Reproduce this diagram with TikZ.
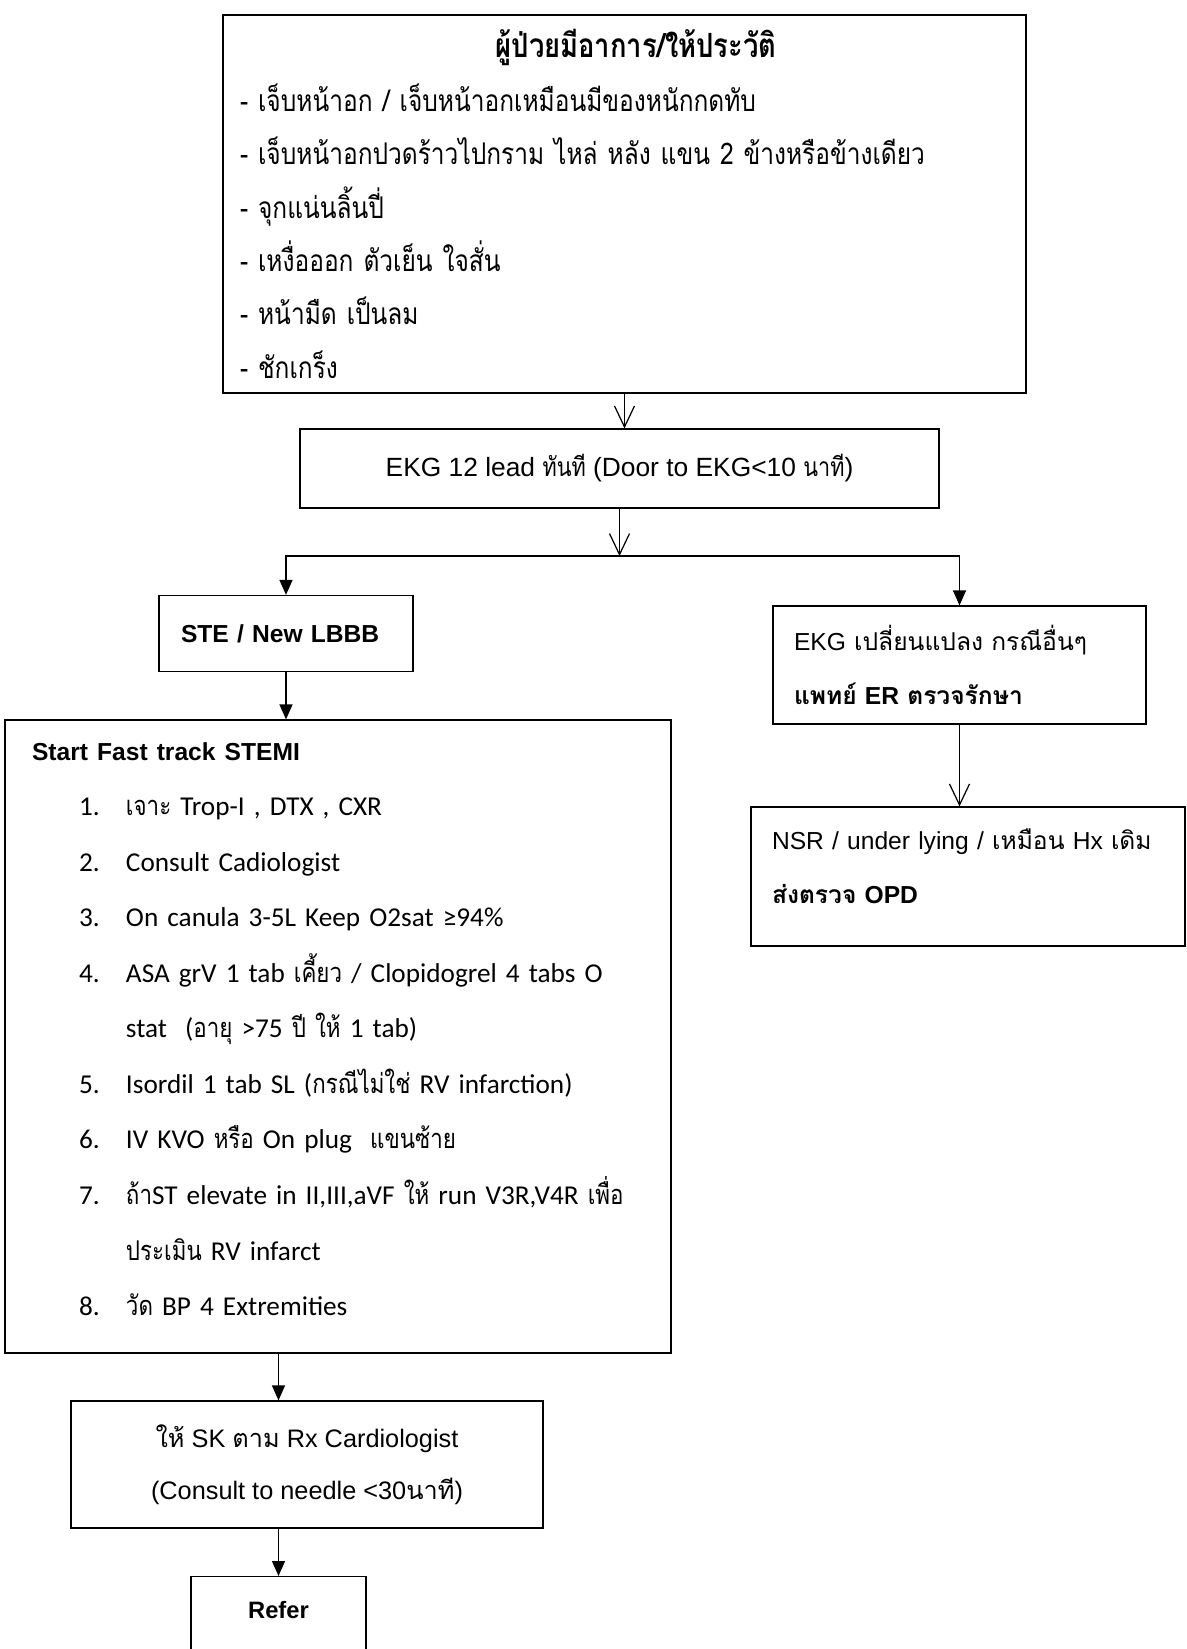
\documentclass[tikz,border=0pt]{standalone}
\usepackage{fontspec}
\setmainfont{Liberation Sans}
\newfontfamily\thaifont[Script=Thai]{Loma}
\newfontfamily\thainarrow[Script=Thai,FakeStretch=0.82]{Loma}
\newfontfamily\listfont{Carlito}
\newcommand{\thai}[1]{{\thaifont #1}}
\newcommand{\thain}[1]{{\thainarrow #1}}
\newcommand{\stepitem}[1]{\hspace*{0.94cm}\makebox[0.94cm][l]{#1}}
\usetikzlibrary{arrows.meta}

\begin{document}
\begin{tikzpicture}[every path/.style={line width=0.7pt},
    box/.style={draw,rectangle,inner sep=0pt},
    openarr/.style={-{Straight Barb[length=0.42cm,width=0.4cm]}},
    filledarr/.style={-{Triangle[length=0.3cm,width=0.26cm]}}]
  \useasboundingbox (0,0) rectangle (23.74,-32.98);

  \node[box,minimum width=16.06cm,minimum height=7.56cm,text width=15.38cm,align=left,
    font=\thainarrow\fontsize{17}{30.4}\selectfont] (symptoms) at (12.49,-4.08)
    {\makebox[\hsize]{\hspace{0.46cm}\bfseries\fontsize{19}{30.4}\selectfont ผู้ป่วยมีอาการ/ให้ประวัติ}\\
     - เจ็บหน้าอก / เจ็บหน้าอกเหมือนมีของหนักกดทับ\\
     - เจ็บหน้าอกปวดร้าวไปกราม ไหล่ หลัง แขน 2 ข้างหรือข้างเดียว\\
     - จุกแน่นลิ้นปี่\\
     - เหงื่อออก ตัวเย็น ใจสั่น\\
     - หน้ามืด เป็นลม\\
     - ชักเกร็ง};
  \node[box,minimum width=12.78cm,minimum height=1.58cm,
    font=\fontsize{15}{17}\selectfont] (ekg) at (12.39,-9.37)
    {EKG 12 lead \thain{ทันที} (Door to EKG<10 \thain{นาที})};
  \coordinate (split) at (12.39,-11.12);

  \node[box,minimum width=5.08cm,minimum height=1.52cm,text width=4.2cm,align=left,
    font=\bfseries\fontsize{14}{17}\selectfont] (ste) at (5.72,-12.67) {STE / New LBBB};
  \node[box,minimum width=7.46cm,minimum height=2.36cm,text width=6.62cm,align=left,
    font=\fontsize{14}{30.7}\selectfont] (chg) at (19.19,-13.30)
    {EKG \thai{เปลี่ยนแปลง กรณีอื่นๆ}\\
     \bfseries\thai{แพทย์} ER \thai{ตรวจรักษา}};

  \node[box,minimum width=13.32cm,minimum height=12.66cm,text width=12.24cm,align=left,
    font=\fontsize{15.5}{31.6}\selectfont] (start) at (6.76,-20.73)
    {{\bfseries\fontsize{14}{31.6}\selectfont Start Fast track STEMI}\\
     \listfont
     \stepitem{1.}\thain{เจาะ} Trop-I , DTX , CXR\\
     \stepitem{2.}Consult Cadiologist\\
     \stepitem{3.}On canula 3-5L Keep O2sat ≥94\%\\
     \stepitem{4.}ASA grV 1 tab \thain{เคี้ยว} / Clopidogrel 4 tabs O\\
     \hspace*{1.88cm}stat~ (\thain{อายุ} >75 \thain{ปี ให้} 1 tab)\\
     \stepitem{5.}Isordil 1 tab SL (\thain{กรณีไม่ใช่} RV infarction)\\
     \stepitem{6.}IV KVO \thain{หรือ} On plug~ \thain{แขนซ้าย}\\
     \stepitem{7.}\thain{ถ้า}ST elevate in II,III,aVF \thain{ให้} run V3R,V4R \thain{เพื่อ}\\
     \hspace*{1.88cm}\thain{ประเมิน} RV infarct\\
     \stepitem{8.}\thain{วัด} BP 4 Extremities\rule[-0.3cm]{0pt}{0pt}};
  \node[box,minimum width=8.68cm,minimum height=2.78cm,text width=7.84cm,align=left,
    font=\fontsize{14}{30.7}\selectfont] (nsr) at (19.36,-17.53)
    {NSR / under lying / \thai{เหมือน} Hx \thai{เดิม}\\
     \bfseries\thai{ส่งตรวจ} OPD\rule[-0.4cm]{0pt}{0pt}};

  \node[box,minimum width=9.44cm,minimum height=2.54cm,align=center,
    font=\fontsize{14.4}{29.6}\selectfont] (sk) at (6.14,-29.29)
    {\thai{ให้} SK \thai{ตาม} Rx Cardiologist\\
     (Consult to needle <30\thai{นาที})};
  \node[box,anchor=north,minimum width=3.5cm,inner ysep=0.1cm,text height=0.74cm,
    text depth=1.6cm,font=\bfseries\fontsize{13.5}{17}\selectfont] (refer) at (5.57,-31.52) {Refer};

  \draw[openarr] (symptoms.south) -- (symptoms.south |- ekg.north);
  \draw[openarr] (ekg) -- (split);
  \draw[filledarr] (split) -| (ste);
  \draw[filledarr] (split) -| (chg);
  \draw[filledarr] (ste) -- (ste |- start.north);
  \draw[openarr] (chg.south) -- (chg.south |- nsr.north);
  \draw[filledarr] (start.south -| refer) -- (sk.north -| refer);
  \draw[filledarr] (sk.south -| refer) -- (refer);
\end{tikzpicture}
\end{document}
